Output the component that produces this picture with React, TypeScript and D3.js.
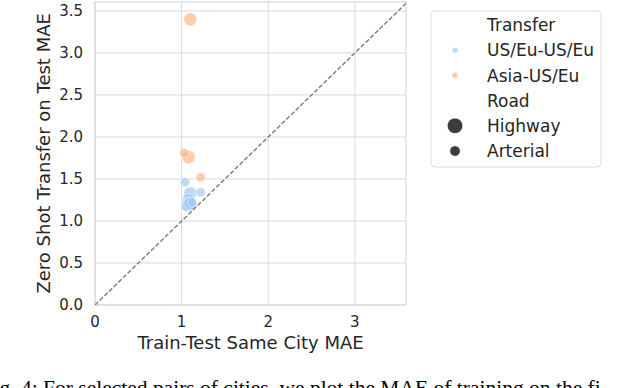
import React from "react";
import * as d3 from "d3";

// transfer categories and road types
const transferTypes = ["US/Eu-US/Eu", "Asia-US/Eu"];
const transferColors = ["#a1c9f4", "#ffb482"];
const roadTypes = ["Highway", "Arterial"];

// one entry per city pair
const pairTransfer = [
  "Asia-US/Eu", "Asia-US/Eu", "Asia-US/Eu", "Asia-US/Eu",
  "US/Eu-US/Eu", "US/Eu-US/Eu", "US/Eu-US/Eu", "US/Eu-US/Eu",
  "US/Eu-US/Eu", "US/Eu-US/Eu", "US/Eu-US/Eu", "US/Eu-US/Eu",
];
const pairRoad = [
  "Highway", "Highway", "Arterial", "Arterial",
  "Arterial", "Highway", "Arterial", "Highway",
  "Highway", "Arterial", "Highway", "Arterial",
];
const sameCityMae = [1.1, 1.08, 1.03, 1.22, 1.04, 1.1, 1.22, 1.08, 1.07, 1.05, 1.1, 1.12];
const zeroShotMae = [3.4, 1.76, 1.81, 1.52, 1.46, 1.33, 1.34, 1.25, 1.19, 1.17, 1.21, 1.22];

const xTicks = [0, 1, 2, 3];
const yTicks = [0, 0.5, 1, 1.5, 2, 2.5, 3, 3.5];

const font = "DejaVu Sans";
const ink = "#262626";

export default function App() {
  const margin = { left: 95, top: 1.7, right: 406, bottom: 305 };
  const x = d3.scaleLinear().domain([0, 3.59]).range([margin.left, margin.right]);
  const y = d3.scaleLinear().domain([0, 3.61]).range([margin.bottom, margin.top]);
  const color = d3.scaleOrdinal<string, string>().domain(transferTypes).range(transferColors);
  const size = d3.scaleOrdinal<string, number>().domain(roadTypes).range([6.6, 4.6]);

  const points = sameCityMae.map((v, i) => ({
    x: v,
    y: zeroShotMae[i],
    transfer: pairTransfer[i],
    road: pairRoad[i],
  }));

  const diag = d3.line<number>()
    .x((d) => x(d))
    .y((d) => y(d));

  const legendX = 455;
  const legendText = 487;
  const rowY = (i: number) => 25 + i * 25.2;

  return (
    <svg
      width={636}
      height={388}
      style={{ position: "absolute", left: 0, top: 0, background: "#fff" }}
      fontFamily={font}
    >
      <defs>
        <clipPath id="plot">
          <rect x={margin.left} y={margin.top} width={margin.right - margin.left} height={margin.bottom - margin.top} />
        </clipPath>
      </defs>

      {/* grid */}
      {xTicks.map((t) => (
        <line key={"gx" + t} x1={x(t)} x2={x(t)} y1={margin.top} y2={margin.bottom} stroke="#d9d9d9" strokeWidth={1} />
      ))}
      {yTicks.map((t) => (
        <line key={"gy" + t} x1={margin.left} x2={margin.right} y1={y(t)} y2={y(t)} stroke="#d9d9d9" strokeWidth={1} />
      ))}
      <rect
        x={margin.left}
        y={margin.top}
        width={margin.right - margin.left}
        height={margin.bottom - margin.top}
        fill="none"
        stroke="#d9d9d9"
        strokeWidth={1.2}
      />

      {/* points */}
      <g clipPath="url(#plot)">
        {points.map((p, i) => (
          <circle
            key={i}
            cx={x(p.x)}
            cy={y(p.y)}
            r={size(p.road)}
            fill={color(p.transfer)}
            fillOpacity={0.68}
            stroke="#fff"
            strokeOpacity={0.7}
            strokeWidth={0.7}
          />
        ))}
        <path d={diag([0, 3.62]) ?? ""} fill="none" stroke="#7c7c7c" strokeWidth={1.4} strokeDasharray="4.5,2" />
      </g>

      {/* ticks */}
      {xTicks.map((t) => (
        <text key={"tx" + t} x={x(t)} y={327} textAnchor="middle" fontSize={15} fill={ink}>
          {d3.format("d")(t)}
        </text>
      ))}
      {yTicks.map((t) => (
        <text key={"ty" + t} x={83} y={y(t)} dy="0.36em" textAnchor="end" fontSize={15} fill={ink}>
          {d3.format(".1f")(t)}
        </text>
      ))}

      {/* axis labels */}
      <text x={(margin.left + margin.right) / 2} y={349} textAnchor="middle" fontSize={18} fill={ink}>
        Train-Test Same City MAE
      </text>
      <text
        transform={`translate(50, ${(margin.top + margin.bottom) / 2}) rotate(-90)`}
        textAnchor="middle"
        fontSize={18}
        fill={ink}
      >
        Zero Shot Transfer on Test MAE
      </text>

      {/* legend */}
      <rect x={431} y={11} width={170} height={156} rx={4} fill="#fff" fillOpacity={0.8} stroke="#dedede" strokeWidth={1} />
      <text x={legendText} y={rowY(0)} dy="0.36em" fontSize={17} fill={ink}>Transfer</text>
      {transferTypes.map((t, i) => (
        <g key={t}>
          <circle cx={legendX} cy={rowY(i + 1)} r={3} fill={color(t)} fillOpacity={0.7} stroke="#fff" strokeWidth={0.6} />
          <text x={legendText} y={rowY(i + 1)} dy="0.36em" fontSize={17} fill={ink}>{t}</text>
        </g>
      ))}
      <text x={legendText} y={rowY(3)} dy="0.36em" fontSize={17} fill={ink}>Road</text>
      {roadTypes.map((r, i) => (
        <g key={r}>
          <circle
            cx={legendX}
            cy={rowY(i + 4)}
            r={i === 0 ? 7.8 : 5.3}
            fill="#3c3c3c"
            stroke="#fff"
            strokeWidth={0.7}
          />
          <text x={legendText} y={rowY(i + 4)} dy="0.36em" fontSize={17} fill={ink}>{r}</text>
        </g>
      ))}

      {/* caption, cut off by the frame as in the source page */}
      <text x={-18.5} y={395} fontFamily="Liberation Serif" fontSize={21.5} fill="#000">
        Fig. 4: For selected pairs of cities, we plot the MAE of training on the fi
      </text>
    </svg>
  );
}
